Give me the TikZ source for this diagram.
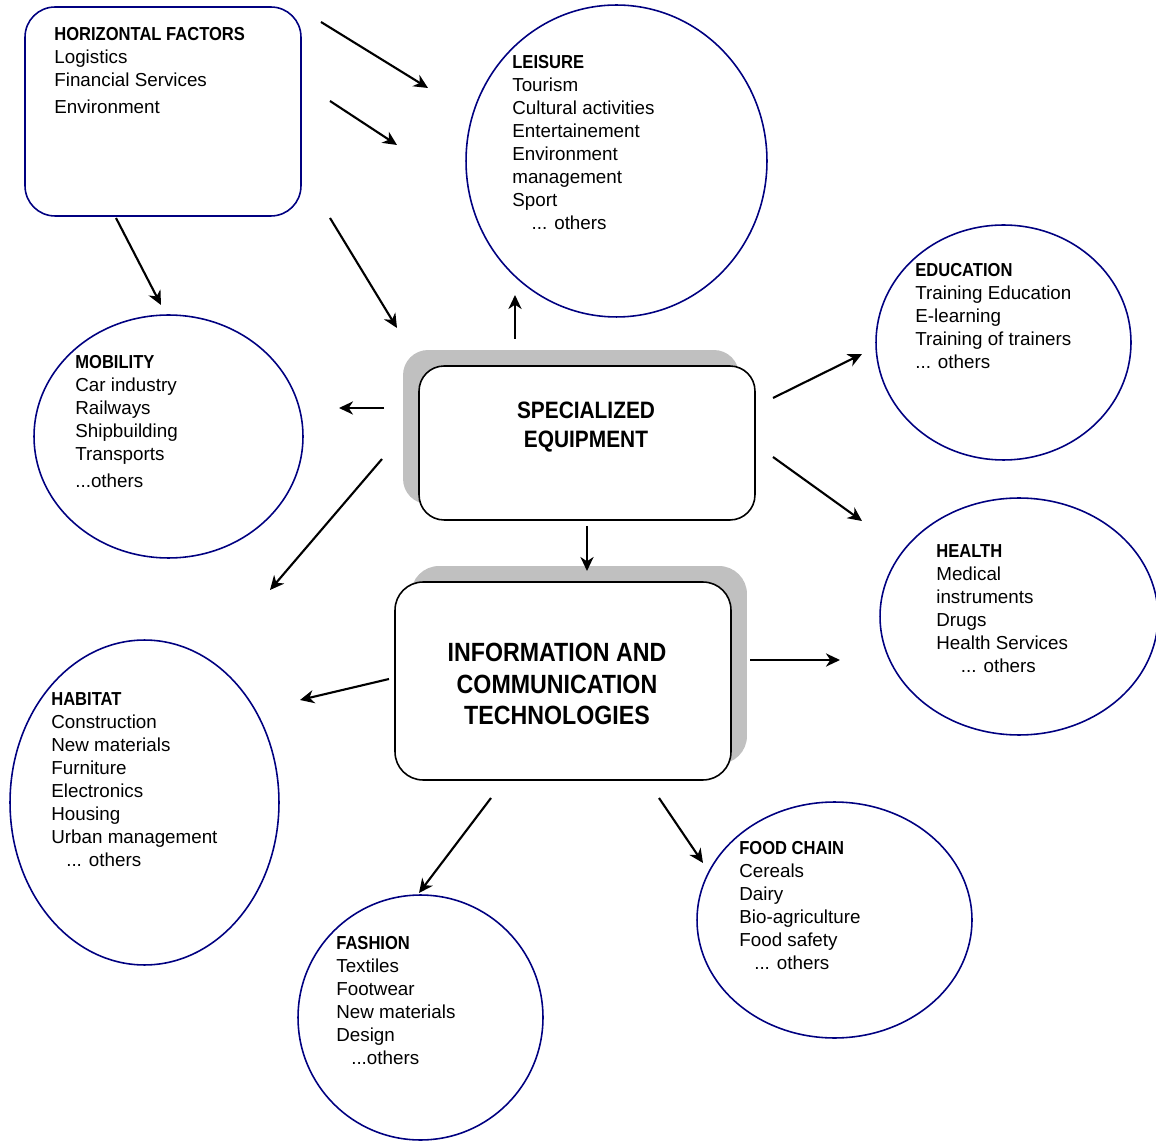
\documentclass[tikz,border=0pt]{standalone}
\usepackage{fontspec}
\setmainfont{Liberation Sans}
\newfontfamily\headfont{Liberation Sans}[FakeStretch=0.88]
\usetikzlibrary{shapes.geometric, shadows, arrows.meta}
\definecolor{navyline}{RGB}{0,0,128}
\definecolor{shadowgray}{RGB}{192,192,192}
\newcommand{\head}[1]{{\headfont\bfseries #1}}
\tikzset{
	>={Stealth[length=8pt, width=7.5pt, inset=2.5pt]},
	sector/.style={ellipse, draw=navyline, line width=0.9pt, inner sep=0pt},
	items/.style={anchor=north west, inner sep=0pt, align=left, font=\fontsize{10.7}{13.1}\selectfont},
	core/.style={rectangle, rounded corners=0.5cm, draw, line width=0.9pt, fill=white, inner sep=0pt, minimum width=6.72cm},
	title/.style={inner sep=0pt, align=center},
	flow/.style={->, line width=1.2pt},
}

\begin{document}
\begin{tikzpicture}[x=0.02cm, y=-0.02cm]
	\useasboundingbox (0,0) rectangle (1156,1141);

	% horizontal factors
	\node[rectangle, rounded corners=0.6cm, draw=navyline, line width=0.9pt, inner sep=0pt, minimum width=5.52cm, minimum height=4.18cm] (HF) at (163,111.5) {};
	\node[items] (HFtxt) at (54,27) {\head{HORIZONTAL FACTORS}\\ Logistics\\ Financial Services\\[2pt] Environment};

	% sectors
	\node[sector, minimum width=6.02cm, minimum height=6.24cm] (LEI) at (616.5,161) {};
	\node[sector, minimum width=5.1cm, minimum height=4.7cm] (EDU) at (1003.5,342.5) {};
	\node[sector, minimum width=5.56cm, minimum height=4.74cm] (HEA) at (1019,616.5) {};
	\node[sector, minimum width=5.38cm, minimum height=4.86cm] (MOB) at (168.5,436.5) {};
	\node[sector, minimum width=5.38cm, minimum height=6.5cm] (HAB) at (144.5,802.5) {};
	\node[sector, minimum width=4.9cm, minimum height=4.9cm] (FAS) at (420.5,1017.5) {};
	\node[sector, minimum width=5.5cm, minimum height=4.72cm] (FOOD) at (834.5,920) {};

	\node[items] (LEItxt) at (512,55) {\head{LEISURE}\\ Tourism\\ Cultural activities\\ Entertainement\\ Environment\\ management\\ Sport\\ \hspace*{11pt}... others};
	\node[items] (EDUtxt) at (915,263) {\head{EDUCATION}\\ Training Education\\ E-learning\\ Training of trainers\\ ... others};
	\node[items] (HEAtxt) at (936,544) {\head{HEALTH}\\ Medical\\ instruments\\ Drugs\\ Health Services\\ \hspace*{14pt}... others};
	\node[items] (MOBtxt) at (75,355) {\head{MOBILITY}\\ Car industry\\ Railways\\ Shipbuilding\\ Transports\\[2pt] ...others};
	\node[items] (HABtxt) at (51,692) {\head{HABITAT}\\ Construction\\ New materials\\ Furniture\\ Electronics\\ Housing\\ Urban management\\ \hspace*{8.5pt}... others};
	\node[items] (FAStxt) at (336,936) {\head{FASHION}\\ Textiles\\ Footwear\\ New materials\\ Design\\ \hspace*{8.5pt}...others};
	\node[items] (FOODtxt) at (739,841) {\head{FOOD CHAIN}\\ Cereals\\ Dairy\\ Bio-agriculture\\ Food safety\\ \hspace*{8.5pt}... others};

	% the two central boxes
	\node[core, minimum height=3.08cm, general shadow={fill=shadowgray, shadow xshift=-0.32cm, shadow yshift=0.32cm}] (SE) at (587,443) {};
	\node[title, font=\headfont\bfseries\fontsize{13.5}{16.5}\selectfont] (SEtxt) at (586,427) {SPECIALIZED\\ EQUIPMENT};
	\node[core, rounded corners=0.56cm, minimum height=3.96cm, general shadow={fill=shadowgray, shadow xshift=0.32cm, shadow yshift=0.32cm}] (ICT) at (563,681) {};
	\node[title, font=\headfont\bfseries\fontsize{15}{18}\selectfont] (ICTtxt) at (557,684) {INFORMATION AND\\ COMMUNICATION\\ TECHNOLOGIES};

	% arrow ends
	\coordinate (HF-LEI-1) at (321,22);   \coordinate (LEI-HF-1) at (428,88);
	\coordinate (HF-LEI-2) at (330,101);  \coordinate (LEI-HF-2) at (397,145);
	\coordinate (HF-MOB) at (116,218);    \coordinate (MOB-HF) at (161,305);
	\coordinate (HF-SE) at (330,218);     \coordinate (SE-HF) at (397,328);
	\coordinate (SE-LEI) at (515,339);    \coordinate (LEI-SE) at (515,295);
	\coordinate (SE-MOB) at (384,408);    \coordinate (MOB-SE) at (339,408);
	\coordinate (SE-HAB) at (382,459);    \coordinate (HAB-SE) at (270,590);
	\coordinate (SE-EDU) at (773,398);    \coordinate (EDU-SE) at (862,354);
	\coordinate (SE-HEA) at (773,457);    \coordinate (HEA-SE) at (862,521);
	\coordinate (SE-ICT) at (587,526);    \coordinate (ICT-SE) at (587,571);
	\coordinate (ICT-HEA) at (750,660);   \coordinate (HEA-ICT) at (840,660);
	\coordinate (ICT-HAB) at (389,679);   \coordinate (HAB-ICT) at (300,700);
	\coordinate (ICT-FAS) at (491,798);   \coordinate (FAS-ICT) at (419,893);
	\coordinate (ICT-FOOD) at (659,798);  \coordinate (FOOD-ICT) at (703,863);

	\draw[flow] (HF-LEI-1) -- (LEI-HF-1);
	\draw[flow] (HF-LEI-2) -- (LEI-HF-2);
	\draw[flow] (HF-MOB) -- (MOB-HF);
	\draw[flow] (HF-SE) -- (SE-HF);
	\draw[flow] (SE-LEI) -- (LEI-SE);
	\draw[flow] (SE-MOB) -- (MOB-SE);
	\draw[flow] (SE-HAB) -- (HAB-SE);
	\draw[flow] (SE-EDU) -- (EDU-SE);
	\draw[flow] (SE-HEA) -- (HEA-SE);
	\draw[flow] (SE-ICT) -- (ICT-SE);
	\draw[flow] (ICT-HEA) -- (HEA-ICT);
	\draw[flow] (ICT-HAB) -- (HAB-ICT);
	\draw[flow] (ICT-FAS) -- (FAS-ICT);
	\draw[flow] (ICT-FOOD) -- (FOOD-ICT);
\end{tikzpicture}
\end{document}
